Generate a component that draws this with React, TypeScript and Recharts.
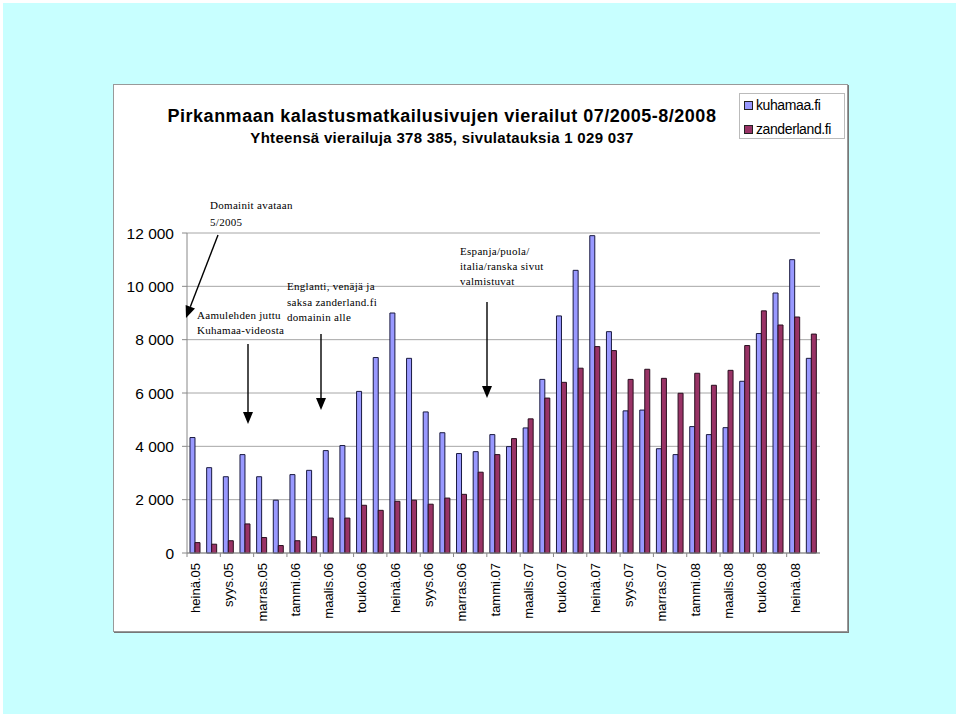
import React from 'react';
import { BarChart, Bar, XAxis, YAxis, CartesianGrid } from 'recharts';

// Monthly visits, heinä.05 .. elo.08
const months = [
    'heinä.05', 'elo.05', 'syys.05', 'loka.05', 'marras.05', 'joulu.05',
    'tammi.06', 'helmi.06', 'maalis.06', 'huhti.06', 'touko.06', 'kesä.06',
    'heinä.06', 'elo.06', 'syys.06', 'loka.06', 'marras.06', 'joulu.06',
    'tammi.07', 'helmi.07', 'maalis.07', 'huhti.07', 'touko.07', 'kesä.07',
    'heinä.07', 'elo.07', 'syys.07', 'loka.07', 'marras.07', 'joulu.07',
    'tammi.08', 'helmi.08', 'maalis.08', 'huhti.08', 'touko.08', 'kesä.08',
    'heinä.08', 'elo.08',
];

const kuhamaa = [
    4330, 3200, 2860, 3690, 2860, 1980,
    2940, 3100, 3840, 4030, 6060, 7330,
    9000, 7300, 5290, 4510, 3730, 3800,
    4440, 3990, 4690, 6510, 8890, 10600,
    11900, 8300, 5330, 5360, 3910, 3690,
    4740, 4440, 4700, 6440, 8230, 9750,
    11000, 7300,
];

const zanderland = [
    390, 330, 460, 1090, 580, 280,
    460, 610, 1310, 1310, 1790, 1600,
    1940, 1980, 1830, 2060, 2200, 3030,
    3690, 4290, 5030, 5810, 6400, 6930,
    7740, 7590, 6510, 6890, 6550, 5990,
    6740, 6290, 6850, 7780, 9080, 8550,
    8850, 8210,
];

const yTicks = [0, 2000, 4000, 6000, 8000, 10000, 12000];

const data = months.map((m, i) => ({ month: m, kuhamaa: kuhamaa[i], zanderland: zanderland[i] }));

const BLUE = '#9999ff';
const MAROON = '#993366';
const SANS = "'Liberation Sans', Arial, sans-serif";
const PLOT_LEFT = 187;
const PLOT_RIGHT = 820;
const BAND = (PLOT_RIGHT - PLOT_LEFT) / months.length;

const fmt = (v: number) => String(v).replace(/\B(?=(\d{3})+(?!\d))/g, ' ');

function MonthTick(props: any) {
    const { x, y, payload, index } = props;
    const left = x - BAND / 2;
    return (
        <g>
            <line x1={left} y1={y - 8} x2={left} y2={y - 4} stroke="#888" />
            {index === 36 && (
                <line x1={x + BAND * 1.5} y1={y - 8} x2={x + BAND * 1.5} y2={y - 4} stroke="#888" />
            )}
            <text
                x={x}
                y={y + 2}
                dy="0.35em"
                transform={`rotate(-90, ${x}, ${y + 2})`}
                textAnchor="end"
                fontSize={13}
                fontFamily={SANS}
                fill="#000"
            >
                {payload.value}
            </text>
        </g>
    );
}

function Arrow({ x1, y1, x2, y2 }: { x1: number; y1: number; x2: number; y2: number }) {
    const dx = x2 - x1;
    const dy = y2 - y1;
    const len = Math.sqrt(dx * dx + dy * dy);
    const ux = dx / len;
    const uy = dy / len;
    const hl = 12;
    const hw = 5;
    const bx = x2 - ux * hl;
    const by = y2 - uy * hl;
    return (
        <g>
            <line x1={x1} y1={y1} x2={bx} y2={by} stroke="#000" strokeWidth={1.4} />
            <polygon
                points={`${x2},${y2} ${bx - uy * hw},${by + ux * hw} ${bx + uy * hw},${by - ux * hw}`}
                fill="#000"
            />
        </g>
    );
}

const noteStyle: React.CSSProperties = {
    fontFamily: "'Liberation Serif', 'Times New Roman', serif",
    fontSize: 11,
    letterSpacing: 0.3,
};

export default function App() {
    return (
        <div style={{ position: 'fixed', left: 0, top: 0, width: 960, height: 716, background: '#fff', overflow: 'hidden' }}>
            <div style={{ position: 'absolute', left: 3, top: 3, width: 953, height: 711, background: '#c8ffff' }} />
            <div
                style={{
                    position: 'absolute',
                    left: 113,
                    top: 84,
                    width: 733,
                    height: 546,
                    background: '#fff',
                    border: '1px solid #999',
                    boxShadow: '1px 1px 0 #777',
                }}
            />
            <div
                style={{
                    position: 'absolute',
                    left: 739,
                    top: 93,
                    width: 104,
                    height: 44,
                    border: '1px solid #bbb',
                    background: '#fff',
                    fontFamily: SANS,
                    fontSize: 14,
                }}
            >
                {[
                    { name: 'kuhamaa.fi', color: BLUE },
                    { name: 'zanderland.fi', color: MAROON },
                ].map((item, i) => (
                    <div key={item.name} style={{ position: 'absolute', left: 4, top: 3 + i * 24, display: 'flex', alignItems: 'center', whiteSpace: 'nowrap' }}>
                        <span style={{ display: 'inline-block', width: 7, height: 7, background: item.color, border: '1px solid #222', marginRight: 3 }} />
                        <span style={{ letterSpacing: -0.4 }}>{item.name}</span>
                    </div>
                ))}
            </div>
            <div style={{ position: 'absolute', left: 0, top: 0 }}>
                <BarChart
                    width={960}
                    height={716}
                    data={data}
                    margin={{ top: 233, right: 960 - PLOT_RIGHT, left: PLOT_LEFT - 70, bottom: 716 - 553 - 70 }}
                    barCategoryGap="18%"
                    barGap={0}
                >
                    <CartesianGrid vertical={false} stroke="#a6a6a6" />
                    <XAxis
                        dataKey="month"
                        interval={1}
                        height={70}
                        axisLine={{ stroke: '#888' }}
                        tickLine={false}
                        tick={<MonthTick />}
                    />
                    <YAxis
                        domain={[0, 12000]}
                        ticks={yTicks}
                        width={70}
                        tickFormatter={fmt}
                        axisLine={{ stroke: '#888' }}
                        tickLine={{ stroke: '#888' }}
                        tickSize={5}
                        tickMargin={8}
                        tick={{ fontSize: 15.5, fill: '#000', fontFamily: SANS }}
                    />
                    <Bar dataKey="kuhamaa" fill={BLUE} stroke="#1a1a40" strokeWidth={1} isAnimationActive={false} />
                    <Bar dataKey="zanderland" fill={MAROON} stroke="#2a1020" strokeWidth={1} isAnimationActive={false} />
                </BarChart>
            </div>
            <svg width={960} height={716} style={{ position: 'absolute', left: 0, top: 0, pointerEvents: 'none' }}>
                <text x={442} y={122} textAnchor="middle" fontFamily={SANS} fontWeight="bold" fontSize={18} letterSpacing={0.5}>
                    Pirkanmaan kalastusmatkailusivujen vierailut 07/2005-8/2008
                </text>
                <text x={442} y={143} textAnchor="middle" fontFamily={SANS} fontWeight="bold" fontSize={15} letterSpacing={0.3}>
                    Yhteensä vierailuja 378 385, sivulatauksia 1 029 037
                </text>
                <g style={noteStyle}>
                    <text x={210} y={209}>Domainit avataan</text>
                    <text x={210} y={226}>5/2005</text>
                    <text x={197} y={319}>Aamulehden juttu</text>
                    <text x={197} y={334}>Kuhamaa-videosta</text>
                    <text x={287} y={290}>Englanti, venäjä ja</text>
                    <text x={287} y={306}>saksa zanderland.fi</text>
                    <text x={287} y={321}>domainin alle</text>
                    <text x={460} y={255}>Espanja/puola/</text>
                    <text x={460} y={270}>italia/ranska sivut</text>
                    <text x={460} y={285}>valmistuvat</text>
                </g>
                <Arrow x1={218} y1={235} x2={186} y2={318} />
                <Arrow x1={248} y1={344} x2={248} y2={424} />
                <Arrow x1={321} y1={334} x2={321} y2={410} />
                <Arrow x1={487} y1={302} x2={487} y2={398} />
            </svg>
        </div>
    );
}
